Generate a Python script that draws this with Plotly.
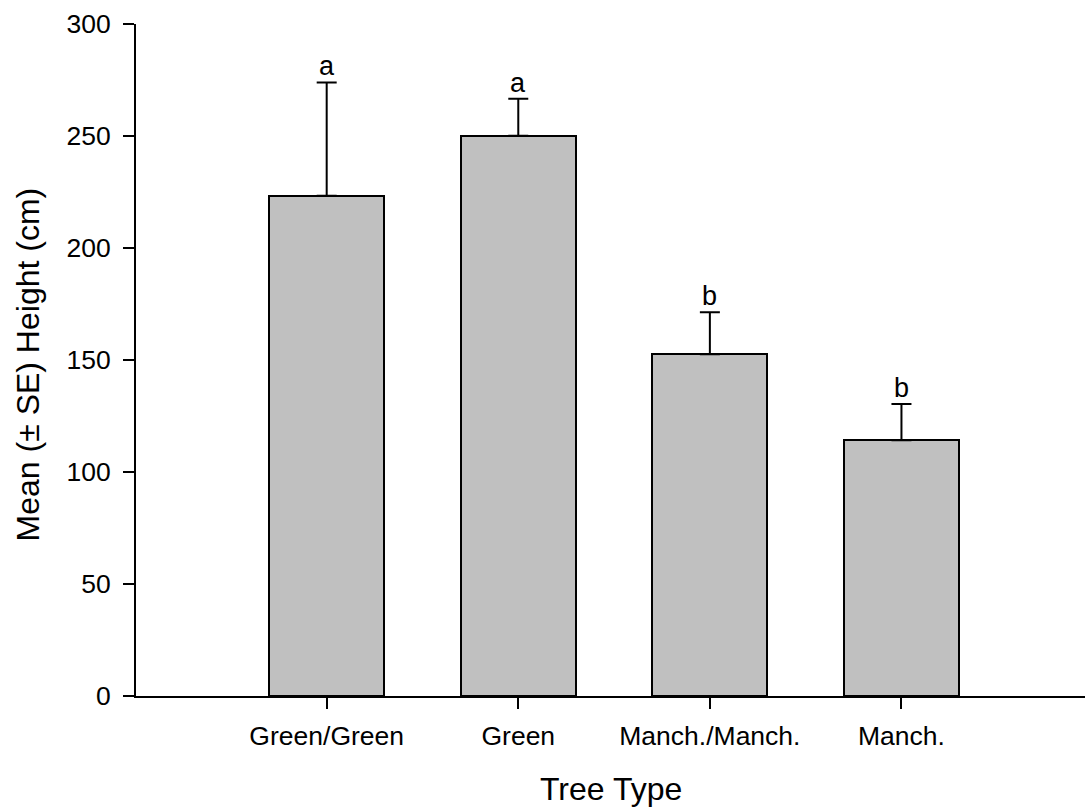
import plotly.graph_objects as go

# Tree height by tree type (mean with standard error)
tree_types = ["Green/Green", "Green", "Manch./Manch.", "Manch."]
mean_height = [223.3, 250.1, 152.6, 114.2]
se_height = [50.6, 16.5, 18.7, 16.2]
group_letters = ["a", "a", "b", "b"]

FONT = "Liberation Sans, Arial, sans-serif"
positions = list(range(len(tree_types)))

fig = go.Figure()
fig.add_trace(go.Bar(
    x=positions,
    y=mean_height,
    width=0.6,
    marker=dict(color="#c0c0c0", line=dict(color="black", width=2)),
    error_y=dict(
        type="data",
        symmetric=False,
        array=se_height,
        arrayminus=[0] * len(se_height),
        color="black",
        thickness=2,
        width=10,
    ),
    showlegend=False,
    hoverinfo="skip",
))

# significance letters above each error bar
for xi, m, s, letter in zip(positions, mean_height, se_height, group_letters):
    fig.add_annotation(
        x=xi, y=m + s, xref="x", yref="y",
        text=letter, showarrow=False,
        xanchor="center", yanchor="bottom", yshift=-1,
        font=dict(family=FONT, size=27, color="black"),
    )

# axis titles
fig.add_annotation(
    x=0.5, y=-0.1384, xref="paper", yref="paper",
    text="Tree Type", showarrow=False,
    xanchor="center", yanchor="middle",
    font=dict(family=FONT, size=32, color="black"),
)
fig.add_annotation(
    x=-0.1134, y=0.494, xref="paper", yref="paper",
    text="Mean (± SE) Height (cm)", showarrow=False, textangle=-90,
    xanchor="center", yanchor="middle",
    font=dict(family=FONT, size=32, color="black"),
)

fig.update_layout(
    width=1085, height=808,
    margin=dict(l=136, r=0, t=24, b=112, pad=0),
    paper_bgcolor="white", plot_bgcolor="white",
    font=dict(family=FONT, color="black"),
    bargap=0,
)
fig.update_xaxes(
    range=[-0.9953, 3.958],
    tickmode="array", tickvals=positions, ticktext=tree_types,
    showline=True, linecolor="black", linewidth=2,
    ticks="outside", ticklen=11, tickwidth=2, tickcolor="black",
    ticklabelstandoff=4,
    tickfont=dict(family=FONT, size=26.5, color="black"),
    showgrid=False, zeroline=False,
)
fig.update_yaxes(
    range=[0, 300],
    tickmode="array", tickvals=[0, 50, 100, 150, 200, 250, 300],
    showline=True, linecolor="black", linewidth=2,
    ticks="outside", ticklen=11, tickwidth=2, tickcolor="black",
    ticklabelstandoff=7,
    tickfont=dict(family=FONT, size=26.5, color="black"),
    showgrid=False, zeroline=False,
)

fig.write_html("out.html")
